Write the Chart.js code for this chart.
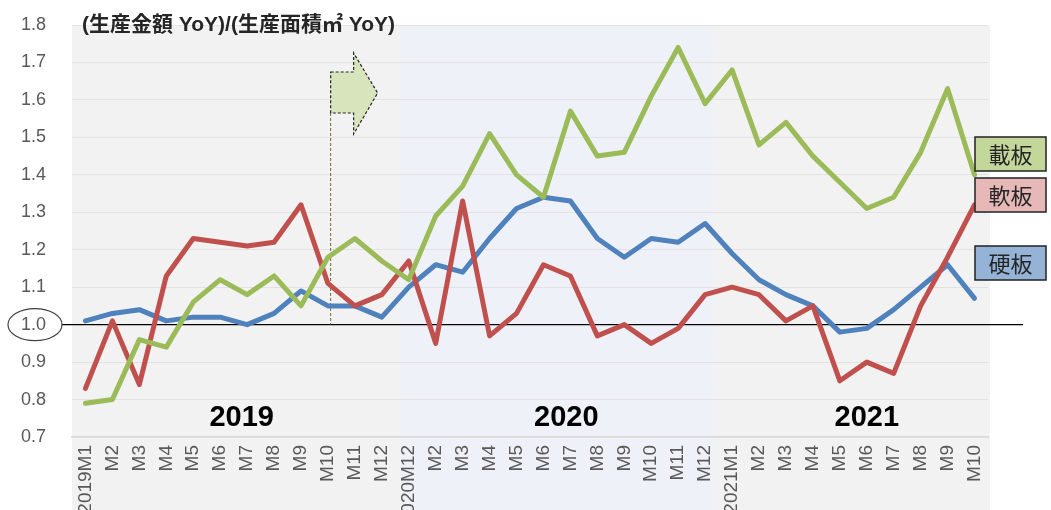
<!DOCTYPE html>
<html>
<head>
<meta charset="utf-8">
<script src="https://cdn.jsdelivr.net/npm/chart.js@4/dist/chart.umd.min.js"></script>
<style>
  body { margin: 0; background: #fff; }
  #wrap { width: 1051px; height: 510px; position: relative; }
</style>
</head>
<body>
<div id="wrap"><canvas id="myChart"></canvas></div>
<script>
// categories (the 13th label reads "2020M12" in the original)
const months = [
	"2019M1", "M2", "M3", "M4", "M5", "M6", "M7", "M8", "M9", "M10", "M11", "M12",
	"2020M12", "M2", "M3", "M4", "M5", "M6", "M7", "M8", "M9", "M10", "M11", "M12",
	"2021M1", "M2", "M3", "M4", "M5", "M6", "M7", "M8", "M9", "M10",
];

// 載板
const substrate = [
	0.79, 0.80, 0.96, 0.94, 1.06, 1.12, 1.08, 1.13, 1.05, 1.18, 1.23, 1.17,
	1.12, 1.29, 1.37, 1.51, 1.40, 1.34, 1.57, 1.45, 1.46, 1.61, 1.74, 1.59,
	1.68, 1.48, 1.54, 1.45, 1.38, 1.31, 1.34, 1.46, 1.63, 1.40,
];
// 軟板
const flex = [
	0.83, 1.01, 0.84, 1.13, 1.23, 1.22, 1.21, 1.22, 1.32, 1.11, 1.05, 1.08,
	1.17, 0.95, 1.33, 0.97, 1.03, 1.16, 1.13, 0.97, 1.00, 0.95, 0.99, 1.08,
	1.10, 1.08, 1.01, 1.05, 0.85, 0.90, 0.87, 1.05, 1.18, 1.32,
];
// 硬板
const rigid = [
	1.01, 1.03, 1.04, 1.01, 1.02, 1.02, 1.00, 1.03, 1.09, 1.05, 1.05, 1.02,
	1.10, 1.16, 1.14, 1.23, 1.31, 1.34, 1.33, 1.23, 1.18, 1.23, 1.22, 1.27,
	1.19, 1.12, 1.08, 1.05, 0.98, 0.99, 1.04, 1.10, 1.16, 1.07,
];

const seriesNames = ["載板", "軟板", "硬板"];
const seriesColors = ["#9BBB59", "#C0504D", "#4F81BD"];
const boxColors = ["#C4D79B", "#E6B9B8", "#95B3D7"];
const yearLabels = ["2019", "2020", "2021"];
const titleText = "(生産金額 YoY)/(生産面積㎡ YoY)";

const FONT = '"Liberation Sans", Arial, "Noto Sans CJK JP", sans-serif';
const CJK = '"Noto Sans CJK JP", "Noto Sans CJK TC", sans-serif';

const overlay = {
	id: "overlay",
	beforeDraw(chart) {
		const { ctx, chartArea: a, scales: { x } } = chart;
		ctx.save();
		ctx.fillStyle = "#f2f2f2";
		ctx.fillRect(a.left, a.top, a.right + 2 - a.left, chart.height - a.top);
		// 2020 band
		const x1 = x.getPixelForValue(11.7);
		const x2 = x.getPixelForValue(23.3);
		ctx.fillStyle = "#eef2f8";
		ctx.fillRect(x1, a.top, x2 - x1, chart.height - a.top);
		ctx.restore();
	},
	beforeDatasetsDraw(chart) {
		const { ctx, scales: { x, y } } = chart;
		const y1 = y.getPixelForValue(1.0);
		ctx.save();
		// base line at 1.0
		ctx.strokeStyle = "#000";
		ctx.lineWidth = 1.2;
		ctx.beginPath();
		ctx.moveTo(62, y1);
		ctx.lineTo(1023, y1);
		ctx.stroke();

		// arrow
		const xl = x.getPixelForValue(9.1);
		const bodyTop = 72, bodyBot = 113, headTop = 53, headBot = 134, tipY = 93;
		ctx.setLineDash([3, 2]);
		ctx.strokeStyle = "#6b6b2b";
		ctx.lineWidth = 1;
		ctx.beginPath();
		ctx.moveTo(xl, bodyBot);
		ctx.lineTo(xl, y1);
		ctx.stroke();

		ctx.beginPath();
		ctx.moveTo(xl, bodyTop);
		ctx.lineTo(xl + 23, bodyTop);
		ctx.lineTo(xl + 23, headTop);
		ctx.lineTo(xl + 47, tipY);
		ctx.lineTo(xl + 23, headBot);
		ctx.lineTo(xl + 23, bodyBot);
		ctx.lineTo(xl, bodyBot);
		ctx.closePath();
		ctx.fillStyle = "#D8E4BC";
		ctx.fill();
		ctx.strokeStyle = "#222";
		ctx.lineWidth = 1.2;
		ctx.stroke();
		ctx.restore();
	},
	afterDraw(chart) {
		const { ctx, scales: { x, y } } = chart;
		ctx.save();
		// title
		ctx.fillStyle = "#262626";
		ctx.font = "bold 21px " + FONT;
		ctx.textBaseline = "middle";
		ctx.textAlign = "left";
		ctx.fillText(titleText, 82, 25);

		// year labels
		ctx.fillStyle = "#000";
		ctx.font = "bold 29px " + FONT;
		ctx.textAlign = "center";
		const yearPos = [5.8, 17.85, 29.0];
		yearLabels.forEach((t, i) => {
			ctx.fillText(t, x.getPixelForValue(yearPos[i]), y.getPixelForValue(0.75));
		});

		// ellipse round 1.0
		ctx.strokeStyle = "#404040";
		ctx.lineWidth = 1.2;
		ctx.beginPath();
		ctx.ellipse(35, y.getPixelForValue(1.0), 27, 16, 0, 0, Math.PI * 2);
		ctx.stroke();

		// series boxes
		const boxTops = [137, 178, 246];
		const boxH = 34;
		ctx.font = "22px " + CJK;
		seriesNames.forEach((name, i) => {
			ctx.fillStyle = boxColors[i];
			ctx.fillRect(975, boxTops[i], 71, boxH);
			ctx.strokeStyle = "#222";
			ctx.lineWidth = 1.5;
			ctx.strokeRect(975, boxTops[i], 71, boxH);
			ctx.fillStyle = "#262626";
			ctx.fillText(name, 1010.5, boxTops[i] + boxH / 2 + 1);
		});
		ctx.restore();
	},
};

new Chart("myChart", {
	type: "line",
	data: {
		labels: months,
		datasets: [
			{ label: seriesNames[0], data: substrate, borderColor: seriesColors[0] },
			{ label: seriesNames[1], data: flex, borderColor: seriesColors[1] },
			{ label: seriesNames[2], data: rigid, borderColor: seriesColors[2] },
		],
	},
	options: {
		responsive: true,
		maintainAspectRatio: false,
		animation: false,
		layout: { padding: { top: 25, right: 63, bottom: 0, left: 21 } },
		elements: {
			line: { borderWidth: 5, tension: 0, fill: false, borderCapStyle: "round", borderJoinStyle: "round" },
			point: { radius: 0, hoverRadius: 0 },
		},
		plugins: {
			legend: { display: false },
			tooltip: { enabled: false },
		},
		scales: {
			x: {
				offset: true,
				grid: { display: false, drawTicks: false, offset: true },
				border: { display: true, color: "#d9d9d9", width: 1.5 },
				ticks: {
					autoSkip: false,
					minRotation: 90,
					maxRotation: 90,
					padding: 8,
					color: "#595959",
					font: { family: FONT, size: 19 },
				},
				afterFit(scale) {
					scale.height = 73;
				},
			},
			y: {
				min: 0.7,
				max: 1.8,
				grid: { color: "#e2e2e2", drawTicks: false },
				border: { display: false },
				ticks: {
					stepSize: 0.1,
					padding: 0,
					crossAlign: "far",
					color: "#595959",
					font: { family: FONT, size: 18 },
					callback: (v) => Number(v).toFixed(1),
				},
				afterFit(scale) {
					scale.width = 51;
				},
			},
		},
	},
	plugins: [overlay],
});
</script>
</body>
</html>
